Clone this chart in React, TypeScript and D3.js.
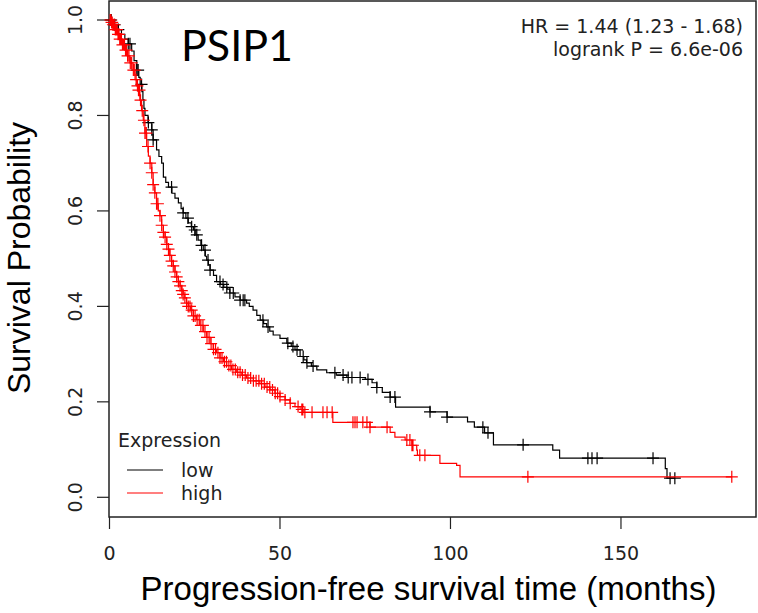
import React, { useRef, useEffect } from 'react';
import { select, scaleLinear, line, curveStepAfter } from 'd3';

const width = 758;
const height = 613;

// low expression group (black)
const lowTimes = [0, 1.5, 2.5, 3.5, 4.5, 5.5, 6.5, 7.2, 8, 8.6, 9, 9.5, 9.8, 10.1, 10.4, 11.3, 12.4, 12.8, 13.8, 14.5, 15.3, 15.8, 16.5, 17.3, 18.3, 19.2, 20.2, 21.0, 21.6, 22.4, 23.1, 24.0, 24.6, 25.3, 26.0, 26.8, 27.5, 28.1, 28.5, 29.0, 29.5, 30.5, 31.4, 32.5, 33.5, 34.5, 35.3, 36.8, 38.3, 40.2, 41.0, 42.1, 43.2, 44.2, 45.2, 46.1, 47.0, 48.0, 50.0, 52.0, 53.3, 54.4, 55.9, 57.0, 57.8, 59.2, 60.8, 63.7, 66.5, 69.6, 75.0, 77.0, 78.4, 80.0, 82.3, 83.9, 94.0, 99.0, 105, 107, 110, 112.6, 130, 132, 163, 163.5];
const lowSurv = [1.0, 0.99, 0.98, 0.97, 0.96, 0.95, 0.935, 0.915, 0.895, 0.88, 0.865, 0.85, 0.833, 0.815, 0.8, 0.785, 0.77, 0.749, 0.728, 0.714, 0.7, 0.671, 0.66, 0.65, 0.637, 0.627, 0.617, 0.605, 0.596, 0.585, 0.575, 0.567, 0.56, 0.55, 0.539, 0.528, 0.518, 0.505, 0.497, 0.487, 0.476, 0.465, 0.452, 0.446, 0.44, 0.436, 0.428, 0.42, 0.413, 0.407, 0.4, 0.392, 0.381, 0.371, 0.364, 0.357, 0.348, 0.34, 0.333, 0.323, 0.316, 0.309, 0.295, 0.288, 0.282, 0.275, 0.267, 0.261, 0.256, 0.251, 0.247, 0.24, 0.23, 0.22, 0.21, 0.189, 0.179, 0.168, 0.158, 0.147, 0.135, 0.11, 0.099, 0.082, 0.06, 0.04];
const lowCensor = [0.5, 1.5, 2.6, 5.5, 6, 8, 8.4, 9.4, 11.4, 12.4, 12.8, 18.2, 21.6, 23, 24.1, 25, 25.6, 27, 28, 28.9, 29.5, 32.4, 33.3, 34.4, 35.3, 36.3, 38.3, 39.2, 39.7, 45, 46.5, 52.3, 53.8, 55, 56.8, 57.9, 59.7, 66.1, 68.5, 70, 71.1, 73.5, 75.8, 78.4, 82.3, 83.7, 94, 99, 109.5, 111, 121.3, 140.3, 141.5, 143, 159.4, 164.4, 165.8];

// high expression group (red)
const highTimes = [0, 0.5, 1.0, 1.6, 2.3, 3.0, 3.8, 4.5, 5.2, 6.0, 6.9, 7.5, 8.0, 8.4, 8.9, 9.4, 9.9, 10.4, 10.9, 11.4, 11.9, 12.4, 12.8, 13.3, 13.8, 14.3, 14.8, 15.3, 15.8, 16.3, 16.8, 17.3, 17.7, 18.2, 18.7, 19.2, 19.7, 20.2, 20.7, 21.2, 21.6, 22.1, 22.6, 23.1, 23.8, 24.6, 25.5, 26.5, 27.5, 28.5, 29.5, 30.4, 31.4, 32.4, 33.4, 34.4, 35.8, 37.3, 38.8, 40.2, 42.2, 44.1, 45.6, 47.1, 48.5, 50, 51.5, 52.9, 54.4, 55.9, 57.0, 65.5, 76.4, 82.3, 83.7, 86.7, 88.7, 90.1, 90.3, 96.9, 101.8, 102.8];
const highSurv = [1.0, 0.995, 0.99, 0.98, 0.97, 0.96, 0.948, 0.937, 0.925, 0.91, 0.895, 0.875, 0.862, 0.853, 0.832, 0.81, 0.79, 0.763, 0.735, 0.715, 0.7, 0.68, 0.655, 0.638, 0.615, 0.6, 0.59, 0.57, 0.555, 0.545, 0.53, 0.52, 0.507, 0.495, 0.485, 0.472, 0.462, 0.452, 0.443, 0.433, 0.425, 0.418, 0.407, 0.4, 0.392, 0.38, 0.372, 0.36, 0.347, 0.335, 0.322, 0.31, 0.303, 0.292, 0.284, 0.276, 0.268, 0.262, 0.256, 0.25, 0.244, 0.238, 0.231, 0.225, 0.218, 0.211, 0.204, 0.197, 0.19, 0.184, 0.178, 0.157, 0.147, 0.136, 0.126, 0.12, 0.109, 0.099, 0.088, 0.071, 0.067, 0.043];
const highCensor = [0.2, 0.4, 0.6, 0.8, 1.0, 1.2, 1.4, 1.7, 2.0, 2.2, 2.5, 2.8, 3.0, 3.3, 3.5, 3.8, 4.1, 4.4, 4.7, 5.0, 5.3, 5.7, 6.1, 6.5, 7.0, 7.4, 7.8, 8.2, 8.5, 8.8, 9.1, 9.6, 10.1, 10.4, 10.8, 11.3, 11.9, 12.4, 12.8, 13.3, 13.8, 14.2, 14.8, 15.3, 15.8, 16.3, 16.8, 17.3, 17.7, 18.2, 18.7, 19.2, 19.7, 20.2, 20.7, 21.2, 21.6, 22.1, 22.6, 23.1, 23.6, 24.1, 24.6, 25.1, 25.7, 26.3, 26.8, 27.4, 28.0, 28.6, 29.2, 29.8, 30.5, 31.1, 31.8, 32.4, 33.0, 33.7, 34.3, 35.0, 35.6, 36.2, 36.9, 37.6, 38.3, 39.0, 39.8, 40.6, 41.4, 42.2, 43.0, 43.8, 44.6, 45.4, 46.2, 47.0, 47.8, 48.6, 49.3, 50, 51.5, 53, 55.3, 56.4, 56.7, 57.3, 59.4, 62.6, 63.8, 65.3, 71.4, 72, 72.6, 74.3, 75.5, 76.4, 81.4, 87.2, 88.1, 88.7, 89, 91, 92.5, 122.7, 182.5];

const xTicks = [0, 50, 100, 150];
const yTicks = [0, 0.2, 0.4, 0.6, 0.8, 1.0];

const groups = [
    { name: 'low', times: lowTimes, surv: lowSurv, censor: lowCensor, color: '#000000' },
    { name: 'high', times: highTimes, surv: highSurv, censor: highCensor, color: '#ff0000' },
];

const tickFont = '"DejaVu Sans", sans-serif';
const titleFont = '"Liberation Sans", Arial, sans-serif';

const survAt = (times, surv, t) => {
    let s = 1;
    for (let i = 0; i < times.length; i++) {
        if (times[i] <= t) s = surv[i];
    }
    return s;
};

const App = () => {
    const d3svg = useRef(null);

    useEffect(() => {
        const svg = select(d3svg.current);
        svg.selectAll('*').remove();

        const x = scaleLinear().domain([0, 189.6]).range([109.5, 756]);
        const y = scaleLinear().domain([0, 1]).range([497.3, 20]);

        svg.append('rect')
            .attr('width', width).attr('height', height).attr('fill', '#fff');

        // plot box
        svg.append('rect')
            .attr('x', 109).attr('y', 1)
            .attr('width', 647).attr('height', 516)
            .attr('fill', 'none').attr('stroke', '#222').attr('stroke-width', 1.5);

        // y axis ticks + labels
        const yAxis = svg.append('g');
        yAxis.selectAll('line').data(yTicks).join('line')
            .attr('x1', 97).attr('x2', 109)
            .attr('y1', d => y(d)).attr('y2', d => y(d))
            .attr('stroke', '#222').attr('stroke-width', 1.2);
        yAxis.selectAll('text').data(yTicks).join('text')
            .attr('transform', d => `translate(82, ${y(d)}) rotate(-90)`)
            .attr('text-anchor', 'middle')
            .style('font-family', tickFont).style('font-size', '19px').attr('fill', '#222')
            .text(d => d.toFixed(1));

        // x axis ticks + labels
        const xAxis = svg.append('g');
        xAxis.selectAll('line').data(xTicks).join('line')
            .attr('x1', d => x(d)).attr('x2', d => x(d))
            .attr('y1', 517).attr('y2', 529)
            .attr('stroke', '#222').attr('stroke-width', 1.2);
        xAxis.selectAll('text').data(xTicks).join('text')
            .attr('x', d => x(d)).attr('y', 560)
            .attr('text-anchor', 'middle')
            .style('font-family', tickFont).style('font-size', '19px').attr('fill', '#222')
            .text(d => d);

        // axis titles
        svg.append('text')
            .attr('x', 428.5).attr('y', 600)
            .attr('text-anchor', 'middle')
            .style('font-family', titleFont).style('font-size', '33px')
            .text('Progression-free survival time (months)');
        svg.append('text')
            .attr('transform', 'translate(30, 258) rotate(-90)')
            .attr('text-anchor', 'middle')
            .style('font-family', titleFont).style('font-size', '32px')
            .text('Survival Probability');

        // curves
        const stepLine = line()
            .x(d => x(d[0]))
            .y(d => y(d[1]))
            .curve(curveStepAfter);

        groups.forEach(g => {
            const pts = g.times.map((t, i) => [t, g.surv[i]]);
            const end = Math.max(...g.censor, ...g.times);
            pts.push([end, g.surv[g.surv.length - 1]]);

            svg.append('path')
                .attr('d', stepLine(pts))
                .attr('fill', 'none')
                .attr('stroke', g.color)
                .attr('stroke-width', 1.2);

            svg.append('path')
                .attr('d', g.censor.map(t => {
                    const cx = x(t);
                    const cy = y(survAt(g.times, g.surv, t));
                    return `M${cx - 6},${cy}h12M${cx},${cy - 6}v12`;
                }).join(''))
                .attr('fill', 'none')
                .attr('stroke', g.color)
                .attr('stroke-width', 1.2);
        });

        // title
        svg.append('text')
            .attr('x', 181).attr('y', 61)
            .style('font-family', 'Lato, "Open Sans", sans-serif').style('font-size', '43px')
            .text('PSIP1');

        // stats
        const stats = svg.append('g')
            .style('font-family', tickFont).style('font-size', '19px').attr('fill', '#222')
            .attr('text-anchor', 'end');
        stats.append('text').attr('x', 743).attr('y', 33).text('HR = 1.44 (1.23 - 1.68)');
        stats.append('text').attr('x', 743).attr('y', 56).text('logrank P = 6.6e-06');

        // legend
        const legend = svg.append('g')
            .style('font-family', tickFont).style('font-size', '19px');
        legend.append('text')
            .attr('x', 118).attr('y', 447).attr('fill', '#222')
            .text('Expression');
        const items = legend.selectAll('g.item').data(groups).join('g')
            .attr('class', 'item')
            .attr('transform', (d, i) => `translate(0, ${470 + i * 23})`);
        items.append('line')
            .attr('x1', 127).attr('x2', 163)
            .attr('stroke', d => d.color).attr('stroke-width', 1.2);
        items.append('text')
            .attr('x', 181).attr('y', 7).attr('fill', '#222')
            .text(d => d.name);
    }, []);

    return (
        <svg
            ref={d3svg}
            width={width}
            height={height}
            style={{ position: 'absolute', left: 0, top: 0 }}
        ></svg>
    );
};

export default App;
